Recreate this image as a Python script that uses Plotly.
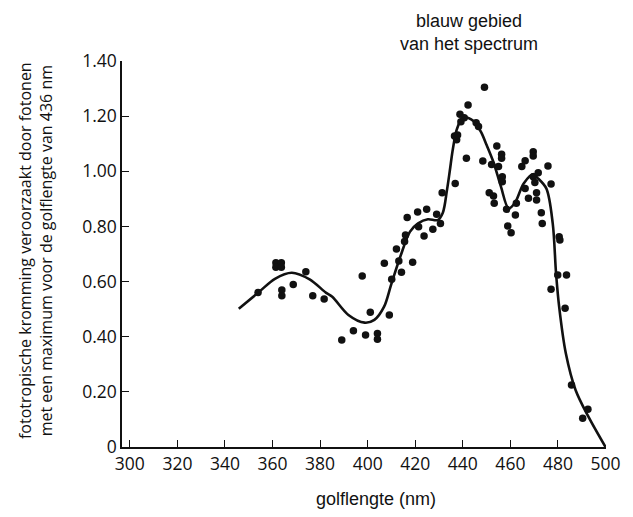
import plotly.graph_objects as go

# measured data points (wavelength nm, relative curvature)
point_x = [353.9, 361.4, 363.7, 361.4, 363.7, 363.9, 363.9, 368.7, 374.0, 376.9,
           381.7, 389.1, 394.0, 399.1, 397.7, 401.1, 404.1, 404.1, 409.1, 407.0,
           410.1, 413.1, 414.2, 412.1, 415.5, 415.9, 416.6, 418.9, 421.0, 421.4,
           423.7, 424.8, 427.4, 429.0, 430.6, 431.3, 436.8, 436.5, 437.4, 437.8,
           438.8, 439.2, 440.6, 442.2, 441.5, 445.6, 446.6, 449.1, 448.4, 451.1,
           452.1, 452.9, 453.2, 454.3, 455.0, 456.3, 456.3, 456.6, 456.6, 458.4,
           458.9, 460.3, 462.1, 462.5, 464.8, 466.2, 466.2, 467.6, 469.6, 469.6,
           469.6, 470.3, 471.0, 471.0, 471.7, 473.0, 473.4, 475.8, 477.1, 480.5,
           480.8, 479.9, 483.6, 477.1, 483.0, 485.7, 492.6, 490.4]
point_y = [0.560, 0.668, 0.668, 0.652, 0.652, 0.569, 0.549, 0.589, 0.636, 0.549,
           0.537, 0.388, 0.422, 0.406, 0.620, 0.489, 0.412, 0.391, 0.479, 0.666,
           0.608, 0.675, 0.634, 0.718, 0.745, 0.769, 0.832, 0.670, 0.852, 0.799,
           0.765, 0.862, 0.790, 0.844, 0.811, 0.922, 0.956, 1.128, 1.114, 1.132,
           1.207, 1.180, 1.194, 1.240, 1.047, 1.176, 1.162, 1.305, 1.037, 0.922,
           1.025, 0.910, 0.884, 1.092, 1.017, 1.062, 1.047, 0.980, 0.962, 0.862,
           0.802, 0.777, 0.841, 0.884, 1.017, 1.038, 0.938, 0.902, 1.071, 1.055,
           0.980, 0.959, 0.922, 0.896, 0.995, 0.850, 0.811, 1.019, 0.954, 0.763,
           0.751, 0.624, 0.624, 0.572, 0.503, 0.225, 0.137, 0.104]

# fitted curve
curve_x = [345.8, 354.4, 361.0, 368.1, 375.6, 382.4, 385.1, 391.9, 398.7, 402.8,
           406.9, 409.9, 413.7, 417.8, 421.2, 425.3, 429.4, 431.6, 433.3, 434.5,
           435.8, 437.4, 439.5, 441.5, 443.5, 445.3, 447.8, 450.0, 453.0, 456.0,
           459.2, 461.8, 465.6, 469.7, 471.2, 475.1, 477.8, 479.2, 480.5, 483.3,
           487.4, 492.8, 500.0]
curve_y = [0.501, 0.563, 0.610, 0.632, 0.608, 0.560, 0.545, 0.479, 0.451, 0.461,
           0.509, 0.590, 0.690, 0.781, 0.811, 0.826, 0.823, 0.850, 0.930, 1.000,
           1.080, 1.150, 1.190, 1.195, 1.188, 1.175, 1.140, 1.095, 1.030, 0.945,
           0.866, 0.884, 0.956, 0.990, 0.978, 0.938, 0.811, 0.630, 0.509, 0.340,
           0.207, 0.110, 0.0]

x_ticks = [300, 320, 340, 360, 380, 400, 420, 440, 460, 480, 500]
y_ticks = [0, 0.2, 0.4, 0.6, 0.8, 1.0, 1.2, 1.4]
y_ticktext = ["0", "0.20", "0.40", "0.60", "0.80", "1.00", "1.20", "1.40"]

TICK_FONT = "Open Sans"
TEXT_FONT = "Liberation Sans"

fig = go.Figure()
fig.add_trace(go.Scatter(x=curve_x, y=curve_y, mode="lines",
                         line=dict(color="#111111", width=2.6, shape="spline", smoothing=0.9),
                         hoverinfo="skip", showlegend=False))
fig.add_trace(go.Scatter(x=point_x, y=point_y, mode="markers",
                         marker=dict(color="#111111", size=7.5),
                         showlegend=False))

# page has an 8px body margin, so the figure is sized to fit inside the window
fig.update_layout(
    width=625, height=509, autosize=False,
    margin=dict(l=114, r=12, t=53, b=70),
    plot_bgcolor="white", paper_bgcolor="white",
    font=dict(family=TICK_FONT, size=16, color="#111111"),
    xaxis=dict(range=[296.7, 500.2], tickvals=x_ticks, ticks="inside", ticklen=7,
               tickcolor="#111111", showline=True, linecolor="#111111", linewidth=1.5,
               showgrid=False, zeroline=False, tickfont=dict(size=17.5),
               ticklabeloverflow="allow"),
    yaxis=dict(range=[0, 1.4], tickvals=y_ticks, ticktext=y_ticktext, ticks="inside",
               ticklen=7, tickcolor="#111111", showline=True, linecolor="#111111",
               linewidth=1.5, showgrid=False, zeroline=False, tickfont=dict(size=17.5),
               ticklabeloverflow="allow"),
    annotations=[
        dict(text="fototropische kromming veroorzaakt door fotonen<br>met een maximum voor de golflengte van 436 nm",
             xref="paper", yref="paper", x=-0.18, y=0.51, textangle=-90,
             xanchor="center", yanchor="middle", showarrow=False,
             font=dict(family=TICK_FONT, size=16)),
        dict(text="golflengte (nm)", xref="paper", yref="paper", x=0.525, y=-0.135,
             xanchor="center", yanchor="middle", showarrow=False,
             font=dict(family=TEXT_FONT, size=18)),
        dict(text="blauw gebied<br>van het spectrum", xref="paper", yref="paper",
             x=0.717, y=1.074, xanchor="center", yanchor="middle", showarrow=False,
             font=dict(family=TEXT_FONT, size=18)),
    ],
)

fig.write_html("out.html")
